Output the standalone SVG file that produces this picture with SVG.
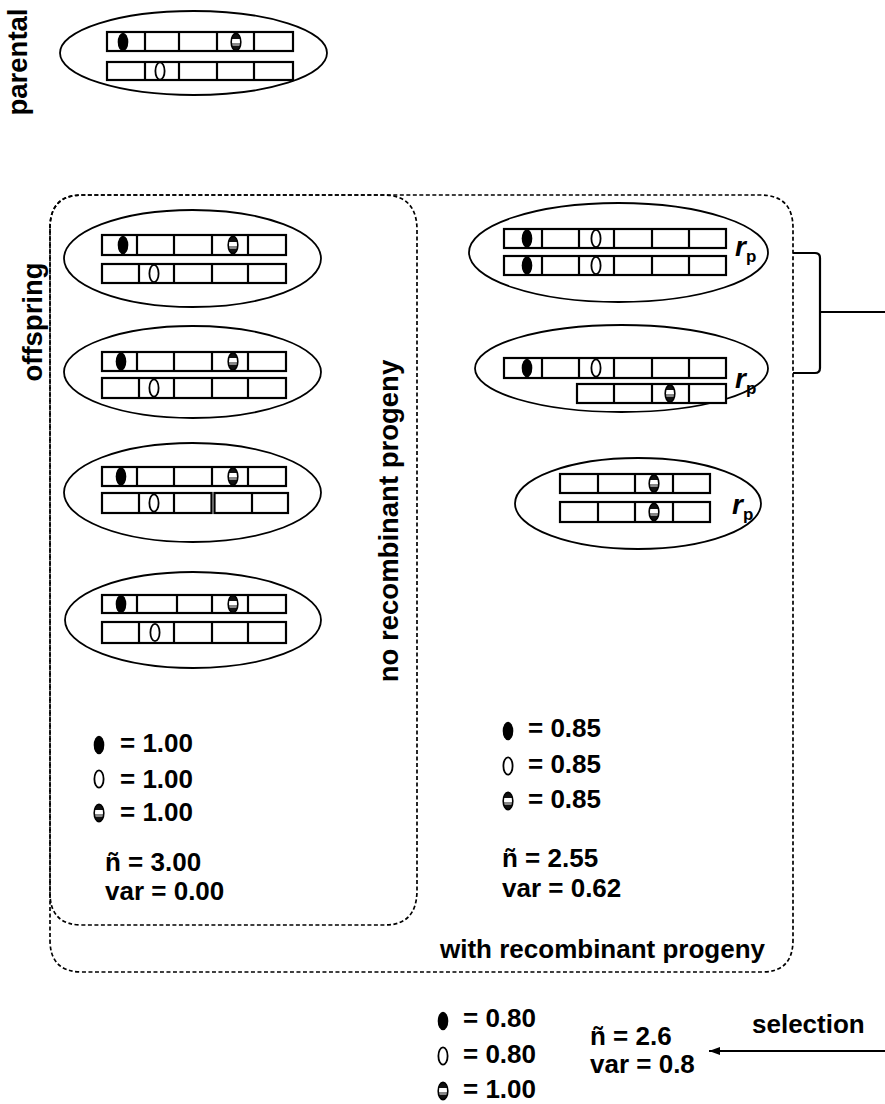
<svg xmlns="http://www.w3.org/2000/svg" xmlns:xlink="http://www.w3.org/1999/xlink" width="885" height="1104" viewBox="0 0 885 1104">
  <style>
    text { font-family: "Liberation Sans", Arial, sans-serif; font-weight: bold; font-size: 26px; fill: #000; }
    .side { font-size: 27.5px; }
    .cell { fill: #fff; stroke: #000; stroke-width: 2.2; }
    .div { fill: none; stroke: #000; stroke-width: 2.2; }
    .cell-ring { fill: #fff; stroke: #000; stroke-width: 1.8; }
    .box { fill: none; stroke: #000; stroke-width: 1.7; stroke-dasharray: 4 2.5; }
    .conn { fill: none; stroke: #000; stroke-width: 2.2; }
    .rp-r { font-style: italic; font-size: 28px; }
    .rp-p { font-size: 17px; }
  </style>
  <defs>
    <linearGradient id="stripe" x1="0" y1="0" x2="0" y2="1">
      <stop offset="0" stop-color="#111"/>
      <stop offset="0.3" stop-color="#111"/>
      <stop offset="0.3" stop-color="#fff"/>
      <stop offset="0.55" stop-color="#fff"/>
      <stop offset="0.55" stop-color="#888"/>
      <stop offset="0.72" stop-color="#888"/>
      <stop offset="0.72" stop-color="#111"/>
      <stop offset="1" stop-color="#111"/>
    </linearGradient>
    <ellipse id="al-b" rx="5.3" ry="9.3" fill="#000"/>
    <ellipse id="al-w" rx="4.6" ry="8.6" fill="#fff" stroke="#000" stroke-width="1.8"/>
    <ellipse id="al-s" rx="4.8" ry="8.6" fill="url(#stripe)" stroke="#000" stroke-width="1.6"/>
    <marker id="arrow" markerWidth="12" markerHeight="10" refX="11" refY="5" orient="auto" markerUnits="userSpaceOnUse">
      <path d="M0,1 L11,5 L0,9 Z" fill="#000"/>
    </marker>
  </defs>

  <!-- side labels -->
  <text class="side" transform="translate(27,62) rotate(-90)" text-anchor="middle">parental</text>
  <text class="side" transform="translate(42,322) rotate(-90)" text-anchor="middle">offspring</text>
  <text class="side" transform="translate(398,521) rotate(-90)" text-anchor="middle">no recombinant progeny</text>

  <!-- grouping boxes -->
  <g id="groups">
    <path class="box" d="M50,228 Q50,195 82,195 H760 Q793,195 793,228 V940 Q793,972 762,972 H82 Q50,972 50,940 Z"/>
    <path class="box" d="M50,228 Q50,195 82,195 H383 Q417,195 417,230 V890 Q417,925 385,925 H82 Q50,925 50,893 Z"/>
    <text x="440" y="958">with recombinant progeny</text>
  </g>

  <!-- parental pair -->
  <g id="parental">
    <ellipse class="cell-ring" cx="193.5" cy="53" rx="133.5" ry="42"/>
    <rect class="cell" x="107" y="32" width="186" height="19"/>
    <path class="div" d="M145,32V51M179,32V51M217,32V51M254,32V51"/>
    <rect class="cell" x="107" y="62" width="186" height="18"/>
    <path class="div" d="M145,62V80M179,62V80M217,62V80M254,62V80"/>
    <use href="#al-b" x="123" y="42"/>
    <use href="#al-s" x="236" y="42"/>
    <use href="#al-w" x="160" y="71"/>
  </g>

  <!-- offspring without recombination -->
  <g id="offspring-1">
    <ellipse class="cell-ring" cx="192.5" cy="258.5" rx="128.5" ry="48.5"/>
    <rect class="cell" x="102" y="235" width="184" height="20"/>
    <path class="div" d="M137,235V255M174,235V255M212,235V255M248,235V255"/>
    <rect class="cell" x="102" y="264" width="184" height="19"/>
    <path class="div" d="M139,264V283M174,264V283M212,264V283M248,264V283"/>
    <use href="#al-b" x="123" y="245"/>
    <use href="#al-s" x="233" y="245"/>
    <use href="#al-w" x="154" y="273.5"/>
  </g>
  <g id="offspring-2">
    <ellipse class="cell-ring" cx="192.5" cy="372" rx="128.5" ry="46"/>
    <rect class="cell" x="102" y="352" width="184" height="19"/>
    <path class="div" d="M137,352V371M174,352V371M212,352V371M248,352V371"/>
    <rect class="cell" x="102" y="378" width="184" height="20"/>
    <path class="div" d="M139,378V398M174,378V398M212,378V398M248,378V398"/>
    <use href="#al-b" x="121" y="361.5"/>
    <use href="#al-s" x="233" y="361.5"/>
    <use href="#al-w" x="154" y="388"/>
  </g>
  <g id="offspring-3">
    <ellipse class="cell-ring" cx="192.5" cy="492.5" rx="128.5" ry="49.5"/>
    <rect class="cell" x="102" y="467" width="184" height="19"/>
    <path class="div" d="M137,467V486M174,467V486M212,467V486M248,467V486"/>
    <rect class="cell" x="102" y="493" width="109.5" height="20"/>
    <path class="div" d="M139,493V513M174,493V513"/>
    <rect class="cell" x="214.5" y="493" width="73.5" height="20"/>
    <path class="div" d="M252,493V513"/>
    <use href="#al-b" x="121" y="476.5"/>
    <use href="#al-s" x="233" y="476.5"/>
    <use href="#al-w" x="154" y="503"/>
  </g>
  <g id="offspring-4">
    <ellipse class="cell-ring" cx="193" cy="620" rx="128" ry="48"/>
    <rect class="cell" x="102" y="595" width="184" height="18"/>
    <path class="div" d="M137,595V613M177,595V613M212,595V613M248,595V613"/>
    <rect class="cell" x="102" y="622" width="184" height="21"/>
    <path class="div" d="M139,622V643M174,622V643M212,622V643M248,622V643"/>
    <use href="#al-b" x="121" y="604"/>
    <use href="#al-s" x="233" y="604"/>
    <use href="#al-w" x="155" y="632.5"/>
  </g>

  <!-- recombinant offspring -->
  <g id="recomb-1">
    <ellipse class="cell-ring" cx="618.5" cy="252.5" rx="149.5" ry="49.5"/>
    <rect class="cell" x="504" y="229" width="222" height="19"/>
    <path class="div" d="M542,229V248M579,229V248M614,229V248M652,229V248M689,229V248"/>
    <rect class="cell" x="504" y="256" width="222" height="19"/>
    <path class="div" d="M542,256V275M579,256V275M614,256V275M652,256V275M689,256V275"/>
    <use href="#al-b" x="527" y="238.5"/>
    <use href="#al-w" x="596" y="238.5"/>
    <use href="#al-b" x="527" y="265.5"/>
    <use href="#al-w" x="596" y="265.5"/>
    <text x="735" y="256"><tspan class="rp-r">r</tspan><tspan class="rp-p" dy="6">p</tspan></text>
  </g>
  <g id="recomb-2">
    <ellipse class="cell-ring" cx="621.5" cy="368.5" rx="146.5" ry="43.5"/>
    <rect class="cell" x="504" y="358" width="222" height="20"/>
    <path class="div" d="M542,358V378M579,358V378M614,358V378M652,358V378M689,358V378"/>
    <rect class="cell" x="577" y="384" width="149" height="19"/>
    <path class="div" d="M614,384V403M652,384V403M689,384V403"/>
    <use href="#al-b" x="527" y="368"/>
    <use href="#al-w" x="596" y="368"/>
    <use href="#al-s" x="670" y="393.5"/>
    <text x="735" y="388"><tspan class="rp-r">r</tspan><tspan class="rp-p" dy="6">p</tspan></text>
  </g>
  <g id="recomb-3">
    <ellipse class="cell-ring" cx="638" cy="503.5" rx="123" ry="45.5"/>
    <rect class="cell" x="560" y="474" width="150" height="19"/>
    <path class="div" d="M598,474V493M635,474V493M673,474V493"/>
    <rect class="cell" x="560" y="502" width="150" height="20"/>
    <path class="div" d="M598,502V522M635,502V522M673,502V522"/>
    <use href="#al-s" x="654" y="483.5"/>
    <use href="#al-s" x="654" y="512"/>
    <text x="732" y="514"><tspan class="rp-r">r</tspan><tspan class="rp-p" dy="6">p</tspan></text>
  </g>

  <!-- frequency summary, no recombination -->
  <g id="stats-none">
    <use href="#al-b" x="99" y="745"/>
    <text x="120" y="752">= 1.00</text>
    <use href="#al-w" x="99" y="779"/>
    <text x="120" y="788">= 1.00</text>
    <use href="#al-s" x="99" y="813"/>
    <text x="120" y="821">= 1.00</text>
    <text x="105" y="871">ñ = 3.00</text>
    <text x="105" y="900">var = 0.00</text>
  </g>

  <!-- frequency summary, with recombination -->
  <g id="stats-recomb">
    <use href="#al-b" x="508" y="731"/>
    <text x="528" y="737">= 0.85</text>
    <use href="#al-w" x="508" y="766"/>
    <text x="528" y="773">= 0.85</text>
    <use href="#al-s" x="508" y="801"/>
    <text x="528" y="808">= 0.85</text>
    <text x="502" y="867">ñ = 2.55</text>
    <text x="502" y="897">var = 0.62</text>
  </g>

  <!-- frequency summary after selection -->
  <g id="stats-selected">
    <use href="#al-b" x="443" y="1021"/>
    <text x="463" y="1027">= 0.80</text>
    <use href="#al-w" x="443" y="1056"/>
    <text x="463" y="1063">= 0.80</text>
    <use href="#al-s" x="443" y="1091"/>
    <text x="463" y="1098">= 1.00</text>
    <text x="590" y="1045">ñ = 2.6</text>
    <text x="590" y="1073">var = 0.8</text>
    <text x="752" y="1033">selection</text>
  </g>

  <!-- connectors -->
  <g id="connectors">
    <path class="conn" d="M793,253 H815 Q820,253 820,258 V368 Q820,373 815,373 H793 M820,312 H885"/>
    <line class="conn" x1="885" y1="1051" x2="709" y2="1051" marker-end="url(#arrow)"/>
  </g>
</svg>
